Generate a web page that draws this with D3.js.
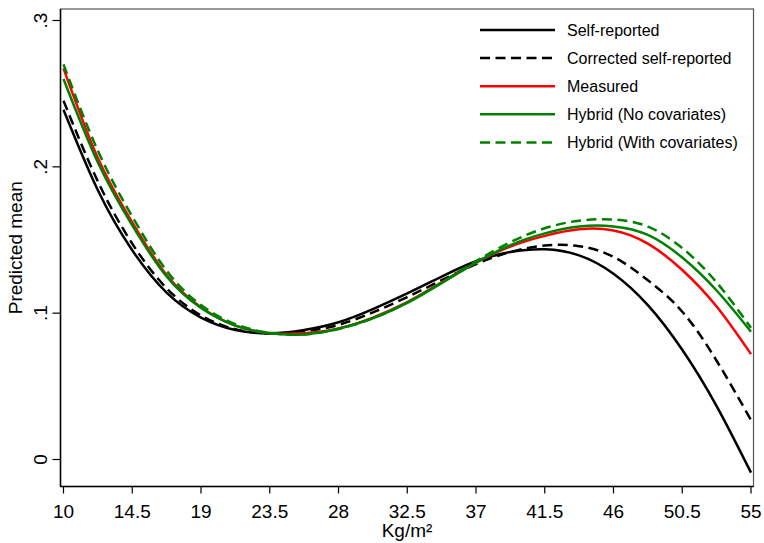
<!DOCTYPE html>
<html>
<head>
<meta charset="utf-8">
<script src="https://cdn.jsdelivr.net/npm/d3@7"></script>
<style>
  body { margin: 0; background: #fff; }
  svg { display: block; font-family: 'Liberation Sans', Arial, sans-serif; }
</style>
</head>
<body>
<div id="chart"></div>
<script>
// BMI grid (Kg/m²)
const bmi = [10, 12.25, 14.5, 16.75, 19, 21.25, 23.5, 25.75, 28, 30.25, 32.5, 34.75, 37, 39.25, 41.5, 43.75, 46, 48.25, 50.5, 52.75, 55]

// predicted means
const selfReported = [0.239, 0.184, 0.143, 0.114, 0.097, 0.0885, 0.0862, 0.0885, 0.0938, 0.1028, 0.1135, 0.125, 0.1355, 0.1418, 0.1437, 0.1395, 0.127, 0.1055, 0.075, 0.0365, -0.009]
const correctedSelf = [0.2452, 0.190, 0.1475, 0.117, 0.0985, 0.089, 0.0862, 0.0875, 0.092, 0.1005, 0.111, 0.1225, 0.1335, 0.1418, 0.1462, 0.1458, 0.1385, 0.1225, 0.101, 0.0675, 0.027]
const measured = [0.2673, 0.206, 0.162, 0.126, 0.104, 0.0915, 0.0865, 0.0862, 0.0895, 0.097, 0.1075, 0.121, 0.1345, 0.1455, 0.1528, 0.1573, 0.1565, 0.1475, 0.1295, 0.1045, 0.072]
const hybridNoCov = [0.260, 0.203, 0.160, 0.125, 0.1035, 0.0915, 0.0862, 0.0855, 0.0893, 0.0965, 0.107, 0.1205, 0.1345, 0.1465, 0.1545, 0.1592, 0.1593, 0.1535, 0.138, 0.1155, 0.0873]
const hybridCov = [0.270, 0.211, 0.166, 0.129, 0.1055, 0.0925, 0.0865, 0.0855, 0.0892, 0.0965, 0.1072, 0.121, 0.1355, 0.1485, 0.158, 0.1632, 0.164, 0.1592, 0.1445, 0.121, 0.090]

const seriesNames = ['Self-reported', 'Corrected self-reported', 'Measured', 'Hybrid (No covariates)', 'Hybrid (With covariates)']
const xTicks = [10, 14.5, 19, 23.5, 28, 32.5, 37, 41.5, 46, 50.5, 55]
const yTicks = [0, 0.1, 0.2, 0.3]

const w = 764, h = 543
const plot = { left: 60.5, right: 753.5, top: 9, bottom: 486.5 }

const styles = [
  { color: '#000', dash: null },
  { color: '#000', dash: '10,5.5' },
  { color: '#ff0000', dash: null },
  { color: '#008000', dash: null },
  { color: '#008000', dash: '10,5.5' }
]
const series = [selfReported, correctedSelf, measured, hybridNoCov, hybridCov]

const x = d3.scaleLinear().domain([10, 55]).range([63.5, 751])
const y = d3.scaleLinear().domain([0, 0.3]).range([459.5, 20.5])

const svg = d3.select('#chart').append('svg').attr('width', w).attr('height', h)

// plot region outline
svg.append('rect')
  .attr('x', plot.left).attr('y', plot.top)
  .attr('width', plot.right - plot.left).attr('height', plot.bottom - plot.top)
  .attr('fill', 'none').attr('stroke', '#555').attr('stroke-width', 1.2)

// curves
let line = d3.line().x((d, i) => x(bmi[i])).y(d => y(d)).curve(d3.curveNatural)
svg.append('g').selectAll('path')
  .data(series)
  .enter()
  .append('path')
  .attr('d', line)
  .attr('fill', 'none')
  .attr('stroke', (d, i) => styles[i].color)
  .attr('stroke-width', 2.5)
  .attr('stroke-dasharray', (d, i) => styles[i].dash)

// y axis
let yAxis = svg.append('g')
yAxis.append('line')
  .attr('x1', plot.left).attr('x2', plot.left).attr('y1', plot.top).attr('y2', plot.bottom)
  .attr('stroke', '#000').attr('stroke-width', 1.5)
yAxis.selectAll('.ytick').data(yTicks).enter().append('line')
  .attr('x1', plot.left - 8).attr('x2', plot.left)
  .attr('y1', d => y(d)).attr('y2', d => y(d))
  .attr('stroke', '#000').attr('stroke-width', 1.2)
yAxis.selectAll('.ylab').data(yTicks).enter().append('text')
  .text(d => d === 0 ? '0' : d3.format('.1f')(d).replace(/^0/, ''))
  .attr('transform', d => `translate(46.5, ${y(d)}) rotate(-90)`)
  .attr('text-anchor', 'middle')
  .attr('font-size', '19px')
svg.append('text').text('Predicted mean')
  .attr('transform', `translate(22, ${(plot.top + plot.bottom) / 2}) rotate(-90)`)
  .attr('text-anchor', 'middle')
  .attr('font-size', '19px')

// x axis
let xAxis = svg.append('g')
xAxis.append('line')
  .attr('x1', plot.left).attr('x2', plot.right).attr('y1', plot.bottom).attr('y2', plot.bottom)
  .attr('stroke', '#000').attr('stroke-width', 1.5)
xAxis.selectAll('.xtick').data(xTicks).enter().append('line')
  .attr('x1', d => x(d)).attr('x2', d => x(d))
  .attr('y1', plot.bottom).attr('y2', plot.bottom + 7)
  .attr('stroke', '#000').attr('stroke-width', 1.2)
xAxis.selectAll('.xlab').data(xTicks).enter().append('text')
  .text(d => d)
  .attr('x', d => x(d)).attr('y', 518)
  .attr('text-anchor', 'middle')
  .attr('font-size', '19px')
svg.append('text').text('Kg/m²')
  .attr('x', (plot.left + plot.right) / 2).attr('y', 537)
  .attr('text-anchor', 'middle')
  .attr('font-size', '19px')

// legend
let legend = svg.append('g').selectAll('g').data(seriesNames).enter().append('g')
  .attr('transform', (d, i) => `translate(480, ${30 + i * 28.1})`)
legend.append('line')
  .attr('x1', 0).attr('x2', 75)
  .attr('stroke', (d, i) => styles[i].color)
  .attr('stroke-width', 2.5)
  .attr('stroke-dasharray', (d, i) => styles[i].dash)
legend.append('text').text(d => d)
  .attr('x', 87).attr('y', 5.5)
  .attr('font-size', '16px')
</script>
</body>
</html>
